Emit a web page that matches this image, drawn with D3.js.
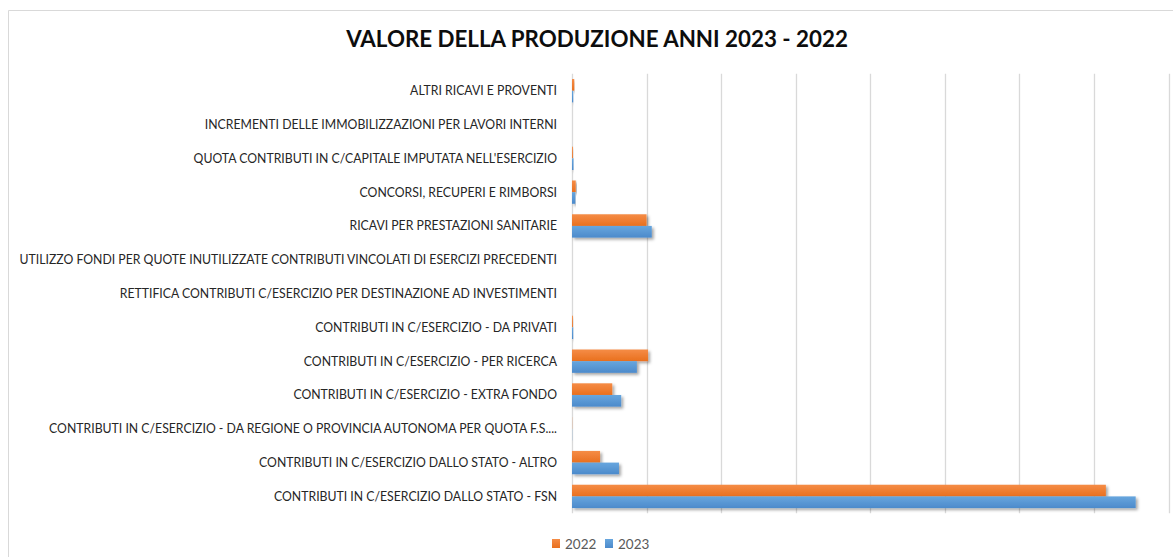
<!DOCTYPE html>
<html>
<head>
<meta charset="utf-8">
<script src="https://cdn.jsdelivr.net/npm/d3@7"></script>
<style>
  body { margin: 0; background: #fff; }
  svg { display: block; font-family: Lato, "Open Sans", "Liberation Sans", sans-serif; }
</style>
</head>
<body>
<svg width="1173" height="557"></svg>
<script>
///////////////////////////////////////////////////
// Data
///////////////////////////////////////////////////

//	categories, top to bottom as drawn
let categories = [
  "ALTRI RICAVI E PROVENTI",
  "INCREMENTI DELLE IMMOBILIZZAZIONI PER LAVORI INTERNI",
  "QUOTA CONTRIBUTI IN C/CAPITALE IMPUTATA NELL'ESERCIZIO",
  "CONCORSI, RECUPERI E RIMBORSI",
  "RICAVI PER PRESTAZIONI SANITARIE",
  "UTILIZZO FONDI PER QUOTE INUTILIZZATE CONTRIBUTI VINCOLATI DI ESERCIZI PRECEDENTI",
  "RETTIFICA CONTRIBUTI C/ESERCIZIO PER DESTINAZIONE AD INVESTIMENTI",
  "CONTRIBUTI IN C/ESERCIZIO - DA PRIVATI",
  "CONTRIBUTI IN C/ESERCIZIO - PER RICERCA",
  "CONTRIBUTI IN C/ESERCIZIO - EXTRA FONDO",
  "CONTRIBUTI IN C/ESERCIZIO - DA REGIONE O PROVINCIA AUTONOMA PER QUOTA F.S....",
  "CONTRIBUTI IN C/ESERCIZIO DALLO STATO - ALTRO",
  "CONTRIBUTI IN C/ESERCIZIO DALLO STATO - FSN"
];

//	values (milioni di euro)
let values2022 = [1.5, 0, 0.6, 2.5, 50, 0, 0, 0.6, 51, 27, 0.1, 18.8, 358];
let values2023 = [0.8, 0, 1.0, 2.2, 53.5, 0, 0, 0.8, 43.5, 33, 0.1, 31.5, 378];

let series = ["2022", "2023"];
let gridTicks = [0, 50, 100, 150, 200, 250, 300, 350, 400];

///////////////////////////////////////////////////
// Setup
///////////////////////////////////////////////////

let svg = d3.select("svg"),
    width = +svg.attr("width"),
    height = +svg.attr("height");

let plot = { left: 572, right: 1168.5, top: 73.8, bottom: 513.3 };

let rows = categories.map(function(c, i) {
  return { name: c, values: [values2022[i], values2023[i]] };
});

let x = d3.scaleLinear()
  .domain([0, 400])
  .range([plot.left, plot.right]);

let y = d3.scaleBand()
  .domain(categories)
  .range([plot.top, plot.bottom])
  .paddingInner(0.31)
  .paddingOuter(0.155);

let y1 = d3.scaleBand()
  .domain(series)
  .range([0, y.bandwidth()]);

//	gradients + shadow, excel style
let defs = svg.append("defs");

let grads = [
  ["2022", "#F58C46", "#E9701F"],
  ["2023", "#67A6DE", "#4C8ACB"]
];
grads.forEach(function(g) {
  let lg = defs.append("linearGradient")
    .attr("id", "grad" + g[0])
    .attr("x1", 0).attr("y1", 0).attr("x2", 0).attr("y2", 1);
  lg.append("stop").attr("offset", "0%").attr("stop-color", g[1]);
  lg.append("stop").attr("offset", "100%").attr("stop-color", g[2]);
});

defs.append("filter")
  .attr("id", "shadow")
  .attr("x", "-10%").attr("y", "-30%")
  .attr("width", "130%").attr("height", "180%")
  .append("feDropShadow")
  .attr("dx", 2).attr("dy", 2)
  .attr("stdDeviation", 1.6)
  .attr("flood-color", "#000")
  .attr("flood-opacity", 0.35);

///////////////////////////////////////////////////
// Frame + title
///////////////////////////////////////////////////

svg.append("path")
  .attr("d", "M8.5," + height + "V10.5H" + width)
  .attr("fill", "none")
  .attr("stroke", "#d9d9d9");

let title = svg.append("text")
  .attr("transform", "translate(597,47)")
  .attr("text-anchor", "middle")
  .attr("font-size", 22)
  .attr("font-weight", "bold")
  .attr("fill", "#0d0d0d")
  .text("VALORE DELLA PRODUZIONE ANNI 2023 - 2022");

//	squeeze to calibri-like width
let tw = title.node().getComputedTextLength();
title.attr("transform", "translate(597,47) scale(" + (502 / tw) + ",1)");

///////////////////////////////////////////////////
// Grid
///////////////////////////////////////////////////

svg.append("g")
  .selectAll("line")
  .data(gridTicks)
  .enter().append("line")
  .attr("x1", function(d) { return Math.round(x(d)) + 0.5; })
  .attr("x2", function(d) { return Math.round(x(d)) + 0.5; })
  .attr("y1", plot.top)
  .attr("y2", plot.bottom)
  .attr("stroke", "#d9d9d9")
  .attr("stroke-width", 1.3);

///////////////////////////////////////////////////
// Bars
///////////////////////////////////////////////////

let group = svg.append("g")
  .selectAll(".row")
  .data(rows)
  .enter().append("g")
  .attr("class", "row")
  .attr("transform", function(d) { return "translate(0," + y(d.name) + ")"; });

group.selectAll("rect")
  .data(function(d) {
    return series.map(function(s, i) { return { key: s, value: d.values[i] }; });
  })
  .enter().append("rect")
  .attr("x", x(0))
  .attr("y", function(d) { return y1(d.key); })
  .attr("height", y1.bandwidth())
  .attr("width", function(d) { return Math.max(0, x(d.value) - x(0)); })
  .attr("fill", function(d) { return "url(#grad" + d.key + ")"; })
  .attr("filter", "url(#shadow)");

///////////////////////////////////////////////////
// Category labels
///////////////////////////////////////////////////

let labels = svg.append("g")
  .selectAll("text")
  .data(categories)
  .enter().append("text")
  .attr("text-anchor", "end")
  .attr("font-size", 12.5)
  .attr("fill", "#262626")
  .attr("dy", "0.35em")
  .text(function(d) { return d; });

let longest = d3.max(labels.nodes(), function(n) { return n.getComputedTextLength(); });
let k = 538 / longest;

labels.attr("transform", function(d) {
  return "translate(557," + (y(d) + y.bandwidth() / 2) + ") scale(" + k + ",1)";
});

///////////////////////////////////////////////////
// Legend
///////////////////////////////////////////////////

let legend = svg.append("g")
  .selectAll("g")
  .data(series)
  .enter().append("g")
  .attr("transform", function(d, i) { return "translate(" + (552 + i * 53) + ",539)"; });

legend.append("rect")
  .attr("width", 8)
  .attr("height", 9)
  .attr("fill", function(d) { return "url(#grad" + d + ")"; });

legend.append("text")
  .attr("x", 13)
  .attr("y", 9.5)
  .attr("font-size", 13.5)
  .attr("fill", "#595959")
  .text(function(d) { return d; });
</script>
</body>
</html>
